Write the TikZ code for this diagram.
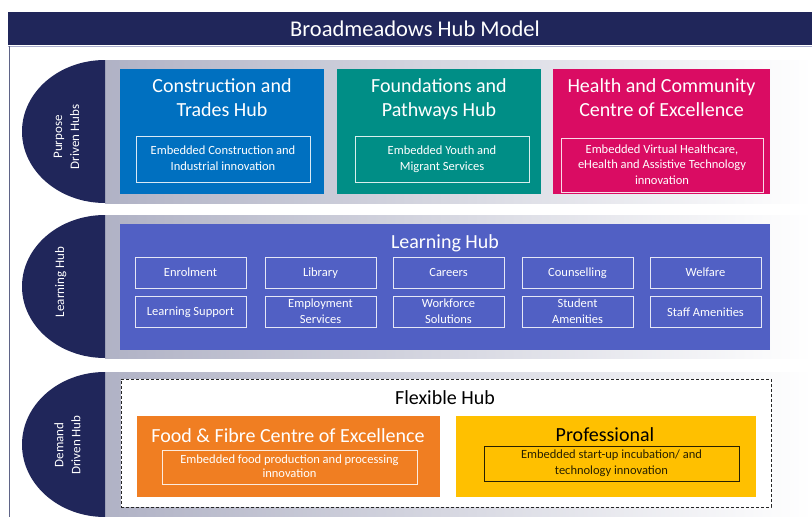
\documentclass[tikz,border=0pt]{standalone}
\usepackage{fontspec}
\setmainfont{Carlito}
\newcommand\hubstrut{\rule[-0.1em]{0pt}{0.9em}}
\definecolor{navy}{RGB}{32,38,90}
\definecolor{frameline}{RGB}{95,100,135}
\definecolor{barline}{RGB}{170,174,205}
\definecolor{bandL}{RGB}{176,178,197}
\definecolor{cblue}{RGB}{0,112,192}
\definecolor{cteal}{RGB}{0,142,134}
\definecolor{cmag}{RGB}{218,12,99}
\definecolor{clearn}{RGB}{81,96,196}
\definecolor{corange}{RGB}{240,126,34}
\definecolor{cyellow}{RGB}{255,192,0}
\definecolor{darktext}{RGB}{40,32,0}
\begin{document}
\begin{tikzpicture}[x=1pt,y=-1pt,
  band/.style={left color=bandL, right color=white, draw=none},
  hubbox/.style={draw=none, inner sep=0pt},
  struts/.style={execute at begin node=\hubstrut, execute at end node=\hubstrut},
  hubtitle/.style={struts, text=white, align=center, inner sep=0pt, font=\fontsize{20}{24}\selectfont},
  innerbox/.style={struts, draw=white, draw opacity=0.85, line width=0.8pt, text=white, align=center, inner sep=0pt, font=\fontsize{12.5}{16}\selectfont},
  smallbox/.style={innerbox, minimum width=111pt, minimum height=31pt},
  tabtext/.style={struts, text=white, align=center, rotate=90, inner sep=0pt, font=\fontsize{13}{17}\selectfont}
]
\useasboundingbox (0,0) rectangle (812,517);
\fill[white] (0,0) rectangle (812,517);
% title bar and frame
\fill[navy] (8,12) rectangle (812,45);
\draw[barline, line width=1pt] (8,46) -- (812,46);
\draw[frameline, line width=1pt] (9.5,46) -- (9.5,517);
\node[struts, text=white, inner sep=0pt, font=\fontsize{22.5}{26}\selectfont] (title) at (415,28.5) {Broadmeadows Hub Model};
% bands
\shade[band] (105,60) rectangle (812,203);
\shade[band] (105,215) rectangle (812,358);
\shade[band] (105,372) rectangle (812,517);
% tabs
\fill[navy] (105,60) arc[start angle=270, end angle=90, x radius=83, y radius=71.5] -- cycle;
\fill[navy] (105,215) arc[start angle=270, end angle=90, x radius=83, y radius=71.5] -- cycle;
\fill[navy] (105,372) arc[start angle=270, end angle=90, x radius=83, y radius=72.5] -- cycle;
\node[tabtext] (tab1) at (67,137) {Purpose\\Driven Hubs};
\node[tabtext] (tab2) at (60,282) {Learning Hub};
\node[tabtext] (tab3) at (68,445) {Demand\\Driven Hub};
% purpose driven hubs
\node[hubbox, fill=cblue, minimum width=204pt, minimum height=125pt] (cons) at (222,131.5) {};
\node[hubtitle] (consT) at (222,99) {Construction and\\Trades Hub};
\node[innerbox, minimum width=174pt, minimum height=46pt] (consI) at (223,159) {Embedded Construction and\\Industrial innovation};
\node[hubbox, fill=cteal, minimum width=204pt, minimum height=125pt] (found) at (439,131.5) {};
\node[hubtitle] (foundT) at (439,99) {Foundations and\\Pathways Hub};
\node[innerbox, minimum width=174pt, minimum height=46pt] (foundI) at (442,159) {Embedded Youth and\\Migrant Services};
\node[hubbox, fill=cmag, minimum width=217pt, minimum height=125pt] (health) at (661.5,131.5) {};
\node[hubtitle] (healthT) at (661.5,99) {Health and Community\\Centre of Excellence};
\node[innerbox, minimum width=202pt, minimum height=54pt, font=\fontsize{12.5}{15.5}\selectfont] (healthI) at (662,165) {Embedded Virtual Healthcare,\\eHealth and Assistive Technology\\innovation};
% learning hub
\node[hubbox, fill=clearn, minimum width=650pt, minimum height=126pt] (learn) at (445,287) {};
\node[hubtitle] (learnT) at (445,242) {Learning Hub};
\node[smallbox] (enrol) at (190.5,272.5) {Enrolment};
\node[smallbox] (lib) at (320.5,272.5) {Library};
\node[smallbox] (car) at (448.5,272.5) {Careers};
\node[smallbox] (coun) at (577.5,272.5) {Counselling};
\node[smallbox] (welf) at (705.5,272.5) {Welfare};
\node[smallbox] (lsup) at (190.5,312) {Learning Support};
\node[smallbox] (emp) at (320.5,312) {Employment\\Services};
\node[smallbox] (work) at (448.5,312) {Workforce\\Solutions};
\node[smallbox] (stud) at (577.5,312) {Student\\Amenities};
\node[smallbox] (staff) at (705.5,312) {Staff Amenities};
% flexible hub
\node[draw=black!85, fill=white, dash pattern=on 3pt off 2pt, line width=0.8pt, minimum width=650pt, minimum height=128pt, inner sep=0pt] (flex) at (446,443) {};
\node[struts, inner sep=0pt, font=\fontsize{20}{24}\selectfont] (flexT) at (445,397) {Flexible Hub};
\node[hubbox, fill=corange, minimum width=303pt, minimum height=81pt] (food) at (288.5,456.5) {};
\node[hubtitle] (foodT) at (288,435) {Food \& Fibre Centre of Excellence};
\node[innerbox, minimum width=255pt, minimum height=34pt, font=\fontsize{12.5}{14.5}\selectfont] (foodI) at (289.5,467) {Embedded food production and processing\\innovation};
\node[hubbox, fill=cyellow, minimum width=300pt, minimum height=81pt] (prof) at (606,456.5) {};
\node[hubtitle, text=black] (profT) at (605,434) {Professional};
\node[innerbox, draw=darktext, draw opacity=1, text=darktext, minimum width=255pt, minimum height=35pt] (profI) at (611.5,463.5) {Embedded start-up incubation/ and\\technology innovation};
\end{tikzpicture}
\end{document}
